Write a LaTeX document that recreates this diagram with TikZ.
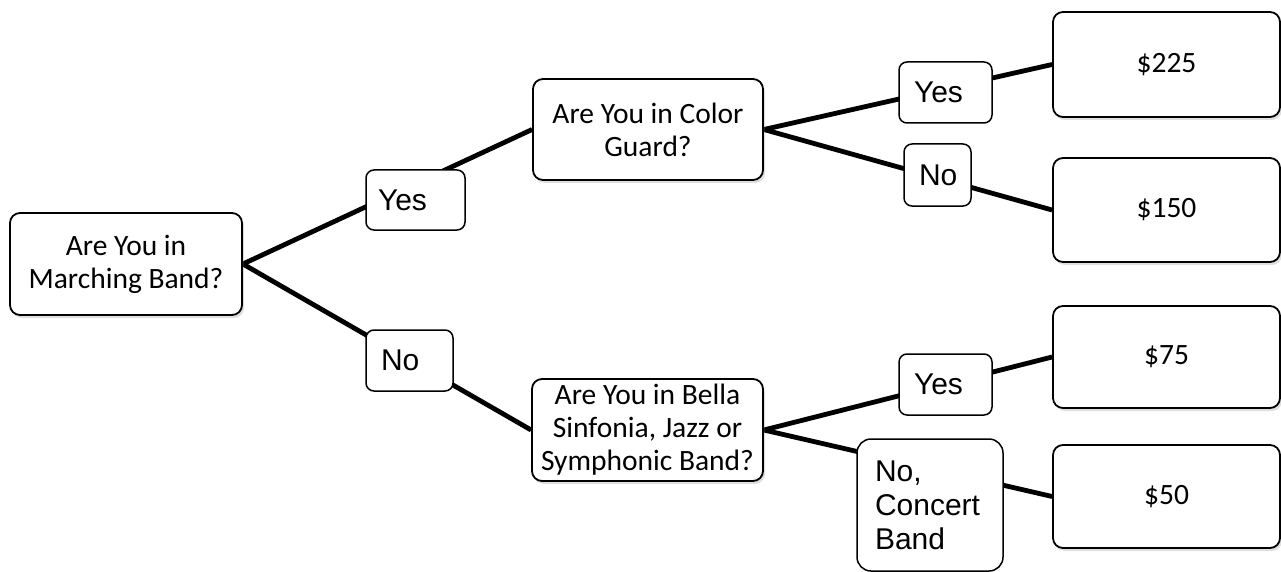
\documentclass[tikz,border=0pt]{standalone}
\usepackage{fontspec}
\setmainfont{Carlito}
\newfontfamily\arialf{Liberation Sans}
\usetikzlibrary{shadows,backgrounds}
\begin{document}
\begin{tikzpicture}[x=1pt,y=-1pt,
  box/.style={draw, line width=1.8pt, rounded corners=10pt, fill=white, align=center,
    font=\fontsize{29.5}{33}\selectfont, inner sep=0pt,
    drop shadow={shadow xshift=2pt, shadow yshift=-3pt, opacity=0.25, fill=gray}},
  lbl/.style={draw, line width=1.5pt, rounded corners=8pt, fill=white, align=left,
    font=\arialf\fontsize{30}{34}\selectfont, inner ysep=0pt},
  conn/.style={line width=4.8pt}]
\useasboundingbox (0,0) rectangle (1281,572);

% main boxes
\node[box, minimum width=232pt, minimum height=102pt] (m) at (126,264) {Are You in\\Marching Band?};
\node[box, minimum width=230pt, minimum height=101pt] (cg) at (648,129.5) {Are You in Color\\Guard?};
\node[box, minimum width=231pt, minimum height=102pt] (bs) at (647.5,430) {Are You in Bella\\Sinfonia, Jazz or\\Symphonic Band?};
\node[box, minimum width=227pt, minimum height=105pt] (p225) at (1166.5,64.5) {\$225};
\node[box, minimum width=227pt, minimum height=104pt] (p150) at (1166.5,210) {\$150};
\node[box, minimum width=227pt, minimum height=102pt] (p75) at (1166.5,357) {\$75};
\node[box, minimum width=227pt, minimum height=103pt] (p50) at (1166.5,496.5) {\$50};

% labels
\node[lbl, inner xsep=12pt, text width=75pt, minimum height=60pt] (y1) at (415.5,200) {Yes};
\node[lbl, inner xsep=15pt, text width=57pt, minimum height=61pt] (n1) at (409.5,360.5) {No};
\node[lbl, inner xsep=15pt, text width=63pt, minimum height=61pt] (y2) at (945.5,92.5) {Yes};
\node[lbl, inner xsep=15pt, text width=37pt, minimum height=62pt] (n2) at (937.5,175) {No};
\node[lbl, inner xsep=15pt, text width=63pt, minimum height=61pt] (y3) at (945.5,384.5) {Yes};
\node[lbl, inner xsep=18pt, text width=110pt, minimum height=132pt, rounded corners=14pt] (n3) at (930,505) {No,\\Concert\\Band};

\begin{scope}[on background layer]
\fill[white] (0,0) rectangle (1281,572);
\draw[conn] (m.east) -- (cg.west);
\draw[conn] (m.east) -- (bs.west);
\draw[conn] (cg.east) -- (p225.west);
\draw[conn] (cg.east) -- (p150.west);
\draw[conn] (bs.east) -- (p75.west);
\draw[conn] (bs.east) -- (p50.west);
\end{scope}
\end{tikzpicture}
\end{document}
